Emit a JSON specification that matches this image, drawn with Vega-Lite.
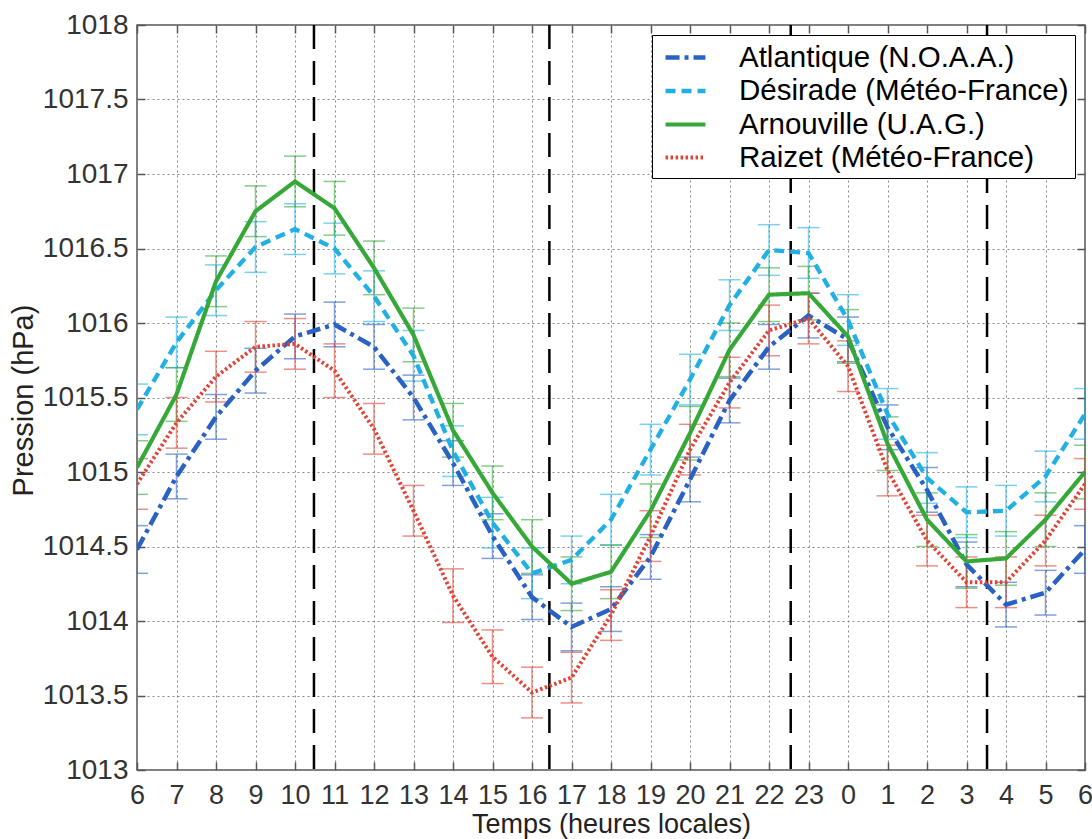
{
  "$schema": "https://vega.github.io/schema/vega-lite/v6.json",
  "width": 948,
  "height": 745,
  "autosize": {"type": "none"},
  "padding": {"left": 137, "top": 25, "right": 7, "bottom": 69},
  "background": "white",
  "config": {"view": {"stroke": "#555", "strokeWidth": 1.5}, "font": "Liberation Sans"},
  "datasets": {
    "marks": [{"t": 4.48}, {"t": 10.44}, {"t": 16.55}, {"t": 21.52}],
    "series": [
      {"serie": "Atlantique (N.O.A.A.)", "pos": 0, "pression": 1014.48, "err": 0.16},
      {"serie": "Atlantique (N.O.A.A.)", "pos": 1, "pression": 1014.97, "err": 0.15},
      {"serie": "Atlantique (N.O.A.A.)", "pos": 2, "pression": 1015.37, "err": 0.15},
      {"serie": "Atlantique (N.O.A.A.)", "pos": 3, "pression": 1015.68, "err": 0.15},
      {"serie": "Atlantique (N.O.A.A.)", "pos": 4, "pression": 1015.91, "err": 0.15},
      {"serie": "Atlantique (N.O.A.A.)", "pos": 5, "pression": 1015.99, "err": 0.15},
      {"serie": "Atlantique (N.O.A.A.)", "pos": 6, "pression": 1015.84, "err": 0.15},
      {"serie": "Atlantique (N.O.A.A.)", "pos": 7, "pression": 1015.5, "err": 0.15},
      {"serie": "Atlantique (N.O.A.A.)", "pos": 8, "pression": 1015.06, "err": 0.15},
      {"serie": "Atlantique (N.O.A.A.)", "pos": 9, "pression": 1014.57, "err": 0.15},
      {"serie": "Atlantique (N.O.A.A.)", "pos": 10, "pression": 1014.16, "err": 0.15},
      {"serie": "Atlantique (N.O.A.A.)", "pos": 11, "pression": 1013.96, "err": 0.16},
      {"serie": "Atlantique (N.O.A.A.)", "pos": 12, "pression": 1014.08, "err": 0.15},
      {"serie": "Atlantique (N.O.A.A.)", "pos": 13, "pression": 1014.43, "err": 0.15},
      {"serie": "Atlantique (N.O.A.A.)", "pos": 14, "pression": 1014.95, "err": 0.15},
      {"serie": "Atlantique (N.O.A.A.)", "pos": 15, "pression": 1015.48, "err": 0.15},
      {"serie": "Atlantique (N.O.A.A.)", "pos": 16, "pression": 1015.84, "err": 0.15},
      {"serie": "Atlantique (N.O.A.A.)", "pos": 17, "pression": 1016.05, "err": 0.15},
      {"serie": "Atlantique (N.O.A.A.)", "pos": 18, "pression": 1015.89, "err": 0.15},
      {"serie": "Atlantique (N.O.A.A.)", "pos": 19, "pression": 1015.3, "err": 0.15},
      {"serie": "Atlantique (N.O.A.A.)", "pos": 20, "pression": 1014.88, "err": 0.15},
      {"serie": "Atlantique (N.O.A.A.)", "pos": 21, "pression": 1014.38, "err": 0.15},
      {"serie": "Atlantique (N.O.A.A.)", "pos": 22, "pression": 1014.11, "err": 0.15},
      {"serie": "Atlantique (N.O.A.A.)", "pos": 23, "pression": 1014.19, "err": 0.15},
      {"serie": "Atlantique (N.O.A.A.)", "pos": 24, "pression": 1014.48, "err": 0.16},
      {"serie": "Désirade (Météo-France)", "pos": 0, "pression": 1015.42, "err": 0.17},
      {"serie": "Désirade (Météo-France)", "pos": 1, "pression": 1015.87, "err": 0.17},
      {"serie": "Désirade (Météo-France)", "pos": 2, "pression": 1016.22, "err": 0.17},
      {"serie": "Désirade (Météo-France)", "pos": 3, "pression": 1016.51, "err": 0.17},
      {"serie": "Désirade (Météo-France)", "pos": 4, "pression": 1016.63, "err": 0.17},
      {"serie": "Désirade (Météo-France)", "pos": 5, "pression": 1016.5, "err": 0.17},
      {"serie": "Désirade (Météo-France)", "pos": 6, "pression": 1016.18, "err": 0.17},
      {"serie": "Désirade (Météo-France)", "pos": 7, "pression": 1015.78, "err": 0.17},
      {"serie": "Désirade (Météo-France)", "pos": 8, "pression": 1015.14, "err": 0.17},
      {"serie": "Désirade (Météo-France)", "pos": 9, "pression": 1014.66, "err": 0.17},
      {"serie": "Désirade (Météo-France)", "pos": 10, "pression": 1014.32, "err": 0.17},
      {"serie": "Désirade (Météo-France)", "pos": 11, "pression": 1014.41, "err": 0.16},
      {"serie": "Désirade (Météo-France)", "pos": 12, "pression": 1014.68, "err": 0.17},
      {"serie": "Désirade (Météo-France)", "pos": 13, "pression": 1015.15, "err": 0.17},
      {"serie": "Désirade (Météo-France)", "pos": 14, "pression": 1015.62, "err": 0.17},
      {"serie": "Désirade (Météo-France)", "pos": 15, "pression": 1016.12, "err": 0.17},
      {"serie": "Désirade (Météo-France)", "pos": 16, "pression": 1016.49, "err": 0.17},
      {"serie": "Désirade (Météo-France)", "pos": 17, "pression": 1016.47, "err": 0.17},
      {"serie": "Désirade (Météo-France)", "pos": 18, "pression": 1016.02, "err": 0.17},
      {"serie": "Désirade (Météo-France)", "pos": 19, "pression": 1015.39, "err": 0.17},
      {"serie": "Désirade (Météo-France)", "pos": 20, "pression": 1014.96, "err": 0.17},
      {"serie": "Désirade (Météo-France)", "pos": 21, "pression": 1014.73, "err": 0.17},
      {"serie": "Désirade (Météo-France)", "pos": 22, "pression": 1014.74, "err": 0.17},
      {"serie": "Désirade (Météo-France)", "pos": 23, "pression": 1014.97, "err": 0.17},
      {"serie": "Désirade (Météo-France)", "pos": 24, "pression": 1015.39, "err": 0.17},
      {"serie": "Arnouville (U.A.G.)", "pos": 0, "pression": 1015.03, "err": 0.18},
      {"serie": "Arnouville (U.A.G.)", "pos": 1, "pression": 1015.52, "err": 0.18},
      {"serie": "Arnouville (U.A.G.)", "pos": 2, "pression": 1016.28, "err": 0.17},
      {"serie": "Arnouville (U.A.G.)", "pos": 3, "pression": 1016.75, "err": 0.17},
      {"serie": "Arnouville (U.A.G.)", "pos": 4, "pression": 1016.95, "err": 0.17},
      {"serie": "Arnouville (U.A.G.)", "pos": 5, "pression": 1016.77, "err": 0.18},
      {"serie": "Arnouville (U.A.G.)", "pos": 6, "pression": 1016.37, "err": 0.18},
      {"serie": "Arnouville (U.A.G.)", "pos": 7, "pression": 1015.92, "err": 0.18},
      {"serie": "Arnouville (U.A.G.)", "pos": 8, "pression": 1015.28, "err": 0.18},
      {"serie": "Arnouville (U.A.G.)", "pos": 9, "pression": 1014.86, "err": 0.18},
      {"serie": "Arnouville (U.A.G.)", "pos": 10, "pression": 1014.5, "err": 0.18},
      {"serie": "Arnouville (U.A.G.)", "pos": 11, "pression": 1014.25, "err": 0.18},
      {"serie": "Arnouville (U.A.G.)", "pos": 12, "pression": 1014.33, "err": 0.18},
      {"serie": "Arnouville (U.A.G.)", "pos": 13, "pression": 1014.74, "err": 0.18},
      {"serie": "Arnouville (U.A.G.)", "pos": 14, "pression": 1015.26, "err": 0.18},
      {"serie": "Arnouville (U.A.G.)", "pos": 15, "pression": 1015.82, "err": 0.18},
      {"serie": "Arnouville (U.A.G.)", "pos": 16, "pression": 1016.19, "err": 0.18},
      {"serie": "Arnouville (U.A.G.)", "pos": 17, "pression": 1016.2, "err": 0.18},
      {"serie": "Arnouville (U.A.G.)", "pos": 18, "pression": 1015.91, "err": 0.18},
      {"serie": "Arnouville (U.A.G.)", "pos": 19, "pression": 1015.19, "err": 0.18},
      {"serie": "Arnouville (U.A.G.)", "pos": 20, "pression": 1014.68, "err": 0.18},
      {"serie": "Arnouville (U.A.G.)", "pos": 21, "pression": 1014.4, "err": 0.18},
      {"serie": "Arnouville (U.A.G.)", "pos": 22, "pression": 1014.42, "err": 0.18},
      {"serie": "Arnouville (U.A.G.)", "pos": 23, "pression": 1014.68, "err": 0.18},
      {"serie": "Arnouville (U.A.G.)", "pos": 24, "pression": 1015.0, "err": 0.18},
      {"serie": "Raizet (Météo-France)", "pos": 0, "pression": 1014.92, "err": 0.17},
      {"serie": "Raizet (Météo-France)", "pos": 1, "pression": 1015.33, "err": 0.17},
      {"serie": "Raizet (Météo-France)", "pos": 2, "pression": 1015.64, "err": 0.17},
      {"serie": "Raizet (Météo-France)", "pos": 3, "pression": 1015.84, "err": 0.17},
      {"serie": "Raizet (Météo-France)", "pos": 4, "pression": 1015.86, "err": 0.17},
      {"serie": "Raizet (Météo-France)", "pos": 5, "pression": 1015.68, "err": 0.18},
      {"serie": "Raizet (Météo-France)", "pos": 6, "pression": 1015.29, "err": 0.17},
      {"serie": "Raizet (Météo-France)", "pos": 7, "pression": 1014.74, "err": 0.17},
      {"serie": "Raizet (Météo-France)", "pos": 8, "pression": 1014.17, "err": 0.18},
      {"serie": "Raizet (Météo-France)", "pos": 9, "pression": 1013.76, "err": 0.18},
      {"serie": "Raizet (Météo-France)", "pos": 10, "pression": 1013.52, "err": 0.17},
      {"serie": "Raizet (Météo-France)", "pos": 11, "pression": 1013.62, "err": 0.17},
      {"serie": "Raizet (Météo-France)", "pos": 12, "pression": 1014.04, "err": 0.17},
      {"serie": "Raizet (Météo-France)", "pos": 13, "pression": 1014.57, "err": 0.17},
      {"serie": "Raizet (Météo-France)", "pos": 14, "pression": 1015.15, "err": 0.17},
      {"serie": "Raizet (Météo-France)", "pos": 15, "pression": 1015.6, "err": 0.17},
      {"serie": "Raizet (Météo-France)", "pos": 16, "pression": 1015.95, "err": 0.17},
      {"serie": "Raizet (Météo-France)", "pos": 17, "pression": 1016.03, "err": 0.17},
      {"serie": "Raizet (Météo-France)", "pos": 18, "pression": 1015.71, "err": 0.17},
      {"serie": "Raizet (Météo-France)", "pos": 19, "pression": 1015.01, "err": 0.17},
      {"serie": "Raizet (Météo-France)", "pos": 20, "pression": 1014.54, "err": 0.17},
      {"serie": "Raizet (Météo-France)", "pos": 21, "pression": 1014.26, "err": 0.17},
      {"serie": "Raizet (Météo-France)", "pos": 22, "pression": 1014.26, "err": 0.17},
      {"serie": "Raizet (Météo-France)", "pos": 23, "pression": 1014.54, "err": 0.17},
      {"serie": "Raizet (Météo-France)", "pos": 24, "pression": 1014.92, "err": 0.17}
    ]
  },
  "layer": [
    {
      "data": {"name": "marks"},
      "mark": {"type": "rule", "color": "black", "strokeWidth": 2.5, "strokeDash": [24, 12]},
      "encoding": {
        "x": {"field": "t", "type": "quantitative", "axis": null, "scale": {"domain": [0, 24], "nice": false, "zero": false}}
      }
    },
    {
      "data": {"name": "series"},
      "mark": {"type": "errorbar", "ticks": {"size": 22, "thickness": 1.5, "opacity": 0.6}, "rule": {"opacity": 0.6}, "thickness": 1.5, "clip": true},
      "encoding": {
        "x": {"field": "pos", "type": "quantitative",
              "scale": {"domain": [0, 24], "nice": false, "zero": false},
              "axis": {"orient": "top", "values": [0,1,2,3,4,5,6,7,8,9,10,11,12,13,14,15,16,17,18,19,20,21,22,23,24], "labels": false, "title": null, "grid": false, "domain": false, "tickSize": -8, "tickColor": "#555", "tickWidth": 1.5}},
        "y": {"field": "pression", "type": "quantitative",
              "scale": {"domain": [1013, 1018], "nice": false, "zero": false},
              "axis": {"orient": "right", "values": [1013,1013.5,1014,1014.5,1015,1015.5,1016,1016.5,1017,1017.5,1018], "labels": false, "title": null, "grid": false, "domain": false, "tickSize": -8, "tickColor": "#555", "tickWidth": 1.5}},
        "yError": {"field": "err"},
        "color": {"field": "serie", "type": "nominal",
                  "scale": {"domain": ["Atlantique (N.O.A.A.)", "Désirade (Météo-France)", "Arnouville (U.A.G.)", "Raizet (Météo-France)"],
                            "range": ["#2a62c4", "#22b0e4", "#35a838", "#e04436"]},
                  "legend": {"orient": "top-right", "offset": 10, "title": null, "strokeColor": "black", "fillColor": "white",
                             "padding": 6, "rowPadding": 2.5, "labelFont": "Liberation Sans", "labelFontSize": 29.5, "labelColor": "black",
                             "labelLimit": 600, "labelOffset": 48, "symbolType": "M-0.64,0H2.21", "symbolSize": 784, "symbolStrokeWidth": 3.5, "symbolOpacity": 1}}
      }
    },
    {
      "data": {"name": "series"},
      "mark": {"type": "line", "clip": true},
      "encoding": {
        "x": {"field": "pos", "type": "quantitative",
              "scale": {"domain": [0, 24], "nice": false, "zero": false},
              "axis": {"orient": "bottom", "values": [0,1,2,3,4,5,6,7,8,9,10,11,12,13,14,15,16,17,18,19,20,21,22,23,24],
                       "labelExpr": "(datum.value + 6) % 24", "labelFlush": false, "labelOverlap": false,
                       "grid": true, "gridDash": [2, 3], "gridColor": "#888", "gridWidth": 1,
                       "domain": false, "tickSize": -8, "tickColor": "#555", "tickWidth": 1.5,
                       "labelFont": "Liberation Sans", "labelFontSize": 27, "labelColor": "#333", "labelPadding": 20,
                       "title": "Temps (heures locales)", "titleFont": "Liberation Sans", "titleFontSize": 27, "titleFontWeight": "normal", "titleColor": "#222",
                       "titleX": 474, "titleY": 54, "titleBaseline": "middle", "titleAlign": "center"}},
        "y": {"field": "pression", "type": "quantitative",
              "scale": {"domain": [1013, 1018], "nice": false, "zero": false},
              "axis": {"orient": "left", "values": [1013,1013.5,1014,1014.5,1015,1015.5,1016,1016.5,1017,1017.5,1018],
                       "format": "~g", "labelOverlap": false,
                       "grid": true, "gridDash": [2, 3], "gridColor": "#888", "gridWidth": 1,
                       "domain": false, "tickSize": -8, "tickColor": "#555", "tickWidth": 1.5,
                       "labelFont": "Liberation Sans", "labelFontSize": 28, "labelColor": "#333", "labelPadding": 17,
                       "title": "Pression (hPa)", "titleFont": "Liberation Sans", "titleFontSize": 29, "titleFontWeight": "normal", "titleColor": "#222",
                       "titleX": -114, "titleY": 375, "titleAngle": -90, "titleBaseline": "middle", "titleAlign": "center"}},
        "color": {"field": "serie", "type": "nominal",
                  "scale": {"domain": ["Atlantique (N.O.A.A.)", "Désirade (Météo-France)", "Arnouville (U.A.G.)", "Raizet (Météo-France)"],
                            "range": ["#2a62c4", "#22b0e4", "#35a838", "#e04436"]},
                  "legend": {"orient": "top-right", "offset": 10, "title": null, "strokeColor": "black", "fillColor": "white",
                             "padding": 6, "rowPadding": 2.5, "labelFont": "Liberation Sans", "labelFontSize": 29.5, "labelColor": "black",
                             "labelLimit": 600, "labelOffset": 48, "symbolType": "M-0.64,0H2.21", "symbolSize": 784, "symbolStrokeWidth": 3.5, "symbolOpacity": 1}},
        "strokeDash": {"field": "serie", "type": "nominal",
                  "scale": {"domain": ["Atlantique (N.O.A.A.)", "Désirade (Météo-France)", "Arnouville (U.A.G.)", "Raizet (Météo-France)"],
                            "range": [[14, 5, 4, 5], [10, 6], [1, 0], [2.5, 2.5]]},
                  "legend": {"orient": "top-right", "offset": 10, "title": null, "strokeColor": "black", "fillColor": "white",
                             "padding": 6, "rowPadding": 2.5, "labelFont": "Liberation Sans", "labelFontSize": 29.5, "labelColor": "black",
                             "labelLimit": 600, "labelOffset": 48, "symbolType": "M-0.64,0H2.21", "symbolSize": 784, "symbolStrokeWidth": 3.5, "symbolOpacity": 1}},
        "strokeWidth": {"field": "serie", "type": "nominal", "legend": null,
                  "scale": {"domain": ["Atlantique (N.O.A.A.)", "Désirade (Météo-France)", "Arnouville (U.A.G.)", "Raizet (Météo-France)"],
                            "range": [4.5, 4, 3.5, 3.5]}}
      }
    }
  ],
  "resolve": {"axis": {"x": "independent", "y": "independent"}}
}
